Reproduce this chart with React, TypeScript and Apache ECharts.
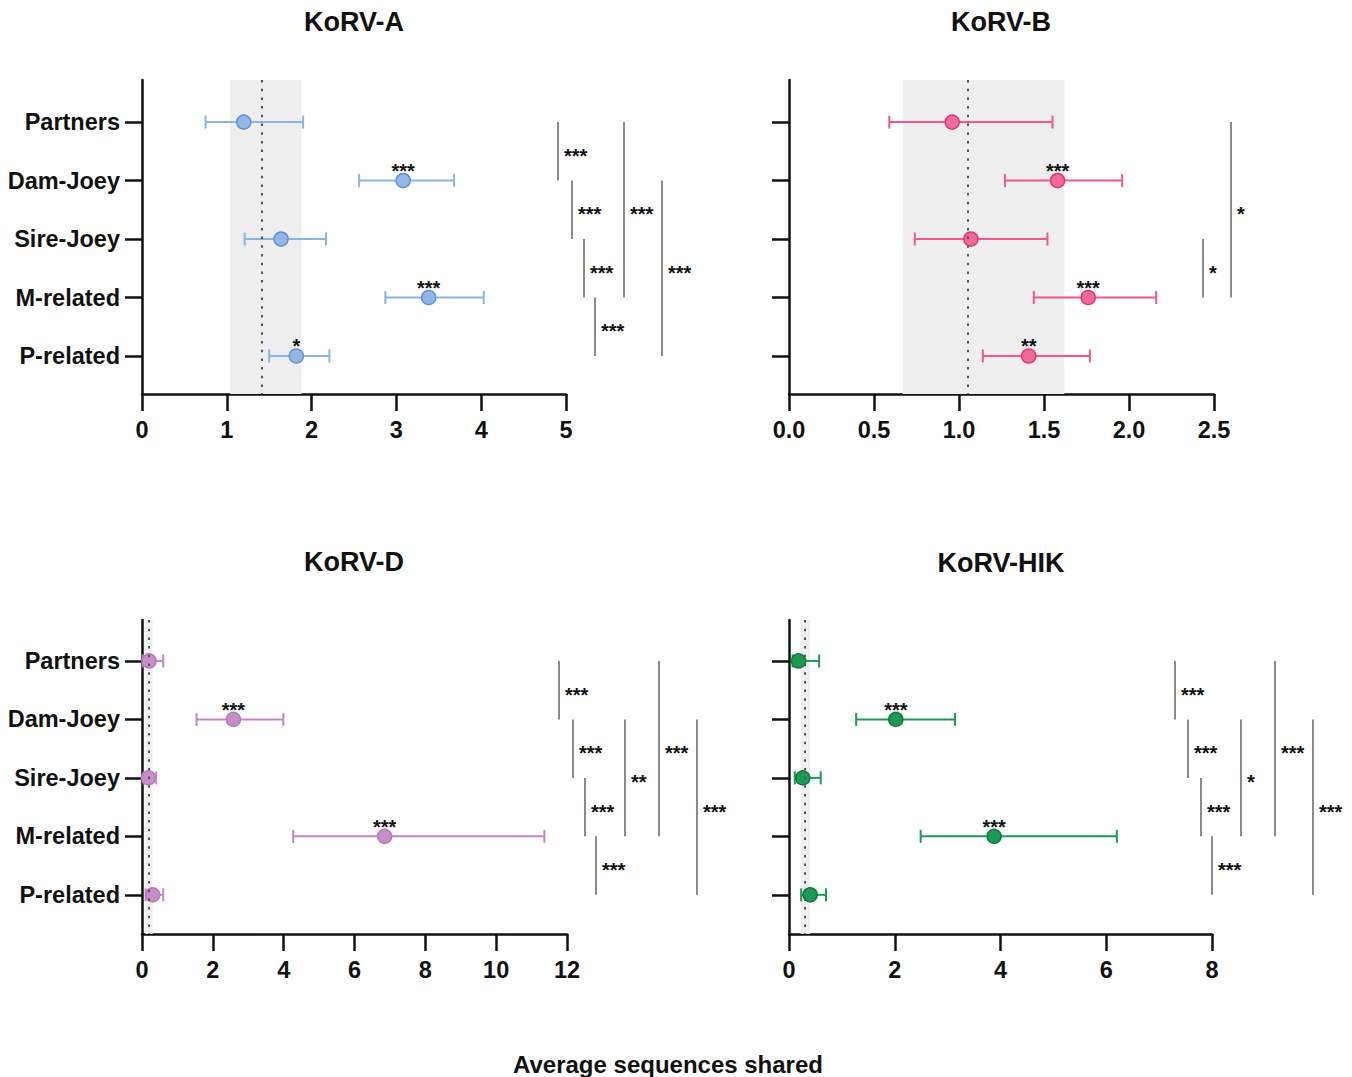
import { useEffect, useRef } from 'react';
import * as echarts from 'echarts';

const categories = ['Partners', 'Dam-Joey', 'Sire-Joey', 'M-related', 'P-related'];
const xAxisTitle = 'Average sequences shared';

// KoRV-A
const aMean = [1.2, 3.08, 1.64, 3.38, 1.82];
const aLow = [0.75, 2.56, 1.21, 2.87, 1.5];
const aHigh = [1.9, 3.68, 2.17, 4.03, 2.21];
const aStars = ['', '***', '', '***', '*'];
const aBand = [1.04, 1.88];
const aRef = 1.41;
const aBrackets: [number, number, string][] = [
  [0, 1, '***'], [1, 2, '***'], [2, 3, '***'], [3, 4, '***'], [0, 3, '***'], [1, 4, '***'],
];

// KoRV-B
const bMean = [0.96, 1.58, 1.07, 1.76, 1.41];
const bLow = [0.59, 1.27, 0.74, 1.44, 1.14];
const bHigh = [1.55, 1.96, 1.52, 2.16, 1.77];
const bStars = ['', '***', '', '***', '**'];
const bBand = [0.67, 1.62];
const bRef = 1.05;
const bBrackets: [number, number, string][] = [[2, 3, '*'], [0, 3, '*']];

// KoRV-D
const dMean = [0.2, 2.58, 0.18, 6.85, 0.3];
const dLow = [0.02, 1.54, 0.05, 4.27, 0.1];
const dHigh = [0.6, 3.99, 0.4, 11.36, 0.6];
const dStars = ['', '***', '', '***', ''];
const dBand = [0.1, 0.3];
const dRef = 0.2;
const dBrackets: [number, number, string][] = [
  [0, 1, '***'], [1, 2, '***'], [2, 3, '***'], [3, 4, '***'], [1, 3, '**'], [0, 3, '***'], [1, 4, '***'],
];

// KoRV-HIK
const hMean = [0.18, 2.02, 0.26, 3.88, 0.4];
const hLow = [0.07, 1.27, 0.11, 2.49, 0.23];
const hHigh = [0.57, 3.14, 0.6, 6.2, 0.7];
const hStars = ['', '***', '', '***', ''];
const hBand = [0.22, 0.4];
const hRef = 0.29;
const hBrackets: [number, number, string][] = [
  [0, 1, '***'], [1, 2, '***'], [2, 3, '***'], [3, 4, '***'], [1, 3, '*'], [0, 3, '***'], [1, 4, '***'],
];

// layout (pixels)
const FONT = '"Liberation Sans", Arial, Helvetica, sans-serif';
const STAR_FONT = `bold 20px ${FONT}`;

const panels = [
  {
    title: 'KoRV-A', mean: aMean, low: aLow, high: aHigh, stars: aStars, band: aBand, ref: aRef,
    brackets: aBrackets, bracketX: [416, 430, 442, 453, 482, 520],
    xMax: 5, xInterval: 1, decimals: 0, showLabels: true,
    grid: { left: 142, top: 80, width: 424, height: 314 }, yMin: -0.72, yMax: 4.65,
    line: '#8ab3e8', fill: '#93b6e4', border: '#5d91d6', titlePos: [354, 22],
  },
  {
    title: 'KoRV-B', mean: bMean, low: bLow, high: bHigh, stars: bStars, band: bBand, ref: bRef,
    brackets: bBrackets, bracketX: [414, 442],
    xMax: 2.5, xInterval: 0.5, decimals: 1, showLabels: false,
    grid: { left: 789, top: 80, width: 425, height: 314 }, yMin: -0.72, yMax: 4.65,
    line: '#f2588d', fill: '#ee6a97', border: '#e0337a', titlePos: [1001, 22],
  },
  {
    title: 'KoRV-D', mean: dMean, low: dLow, high: dHigh, stars: dStars, band: dBand, ref: dRef,
    brackets: dBrackets, bracketX: [417, 431, 443, 454, 483, 517, 555],
    xMax: 12, xInterval: 2, decimals: 0, showLabels: true,
    grid: { left: 142, top: 620, width: 425, height: 314 }, yMin: -0.7, yMax: 4.67,
    line: '#c585c7', fill: '#c58ec8', border: '#b67ab9', titlePos: [354, 562],
  },
  {
    title: 'KoRV-HIK', mean: hMean, low: hLow, high: hHigh, stars: hStars, band: hBand, ref: hRef,
    brackets: hBrackets, bracketX: [386, 399, 412, 423, 452, 486, 524],
    xMax: 8, xInterval: 2, decimals: 0, showLabels: false,
    grid: { left: 789, top: 620, width: 423, height: 314 }, yMin: -0.7, yMax: 4.67,
    line: '#1c9a55', fill: '#1c9a54', border: '#0f7a3d', titlePos: [1001, 563],
  },
];

function buildOption() {
  const grid: any[] = [];
  const xAxis: any[] = [];
  const yAxis: any[] = [];
  const series: any[] = [];
  const graphic: any[] = [];

  panels.forEach((p, i) => {
    grid.push({ ...p.grid, containLabel: false });
    xAxis.push({
      type: 'value', gridIndex: i, min: 0, max: p.xMax, interval: p.xInterval,
      axisLine: { show: true, onZero: false, lineStyle: { color: '#111', width: 2.5 } },
      axisTick: { show: true, length: 17, lineStyle: { color: '#111', width: 2.5 } },
      splitLine: { show: false },
      axisLabel: {
        margin: 24, color: '#111', fontWeight: 'bold', fontSize: 23.5, fontFamily: FONT,
        formatter: (v: number) => v.toFixed(p.decimals),
      },
    });
    yAxis.push({
      type: 'value', gridIndex: i, inverse: true, min: p.yMin, max: p.yMax,
      axisLine: { show: true, onZero: false, lineStyle: { color: '#111', width: 2.5 } },
      axisTick: { show: true, length: 17, customValues: [0, 1, 2, 3, 4], lineStyle: { color: '#111', width: 2.5 } },
      splitLine: { show: false },
      axisLabel: {
        show: p.showLabels,
        customValues: [0, 1, 2, 3, 4],
        margin: 22, color: '#111', fontWeight: 'bold', fontSize: 23.5, fontFamily: FONT,
        formatter: (v: number) => categories[Math.round(v)] ?? '',
      },
    });

    // reference band and dotted mean line
    series.push({
      type: 'scatter', xAxisIndex: i, yAxisIndex: i, data: [], silent: true, z: 0,
      markArea: {
        silent: true,
        itemStyle: { color: '#efefef' },
        data: [[{ xAxis: p.band[0] }, { xAxis: p.band[1] }]],
      },
      markLine: {
        silent: true, symbol: ['none', 'none'],
        label: { show: false },
        lineStyle: { color: '#555', width: 2, type: [2.5, 6.2] },
        data: [{ xAxis: p.ref }],
      },
    });

    // error bars + significance stars above points
    series.push({
      type: 'custom', xAxisIndex: i, yAxisIndex: i, z: 2, silent: true,
      encode: { x: [0, 1, 2], y: 3 },
      data: categories.map((_, k) => [p.low[k], p.high[k], p.mean[k], k]),
      renderItem: (params: any, api: any) => {
        const k = api.value(3);
        const lo = api.coord([api.value(0), k]);
        const hi = api.coord([api.value(1), k]);
        const m = api.coord([api.value(2), k]);
        const st = { stroke: p.line, lineWidth: 2 };
        const children: any[] = [
          { type: 'line', shape: { x1: lo[0], y1: lo[1], x2: hi[0], y2: hi[1] }, style: st },
          { type: 'line', shape: { x1: lo[0], y1: lo[1] - 6.5, x2: lo[0], y2: lo[1] + 6.5 }, style: st },
          { type: 'line', shape: { x1: hi[0], y1: hi[1] - 6.5, x2: hi[0], y2: hi[1] + 6.5 }, style: st },
        ];
        const star = p.stars[params.dataIndex];
        if (star) {
          children.push({
            type: 'text',
            style: {
              text: star, x: m[0], y: m[1] - 9.5, textAlign: 'center', textVerticalAlign: 'middle',
              font: STAR_FONT, fill: '#111',
            },
          });
        }
        return { type: 'group', children };
      },
    });

    // points
    series.push({
      type: 'scatter', xAxisIndex: i, yAxisIndex: i, z: 3, silent: true,
      symbol: 'circle', symbolSize: 14,
      itemStyle: { color: p.fill, borderColor: p.border, borderWidth: 1.5, opacity: 1 },
      data: categories.map((_, k) => [p.mean[k], k]),
    });

    // significance brackets
    series.push({
      type: 'custom', xAxisIndex: i, yAxisIndex: i, z: 2, silent: true, clip: false,
      encode: { y: [0, 1] },
      data: p.brackets.map((b) => [b[0], b[1]]),
      renderItem: (params: any, api: any) => {
        const j = params.dataIndex;
        const x = params.coordSys.x + p.bracketX[j];
        const y1 = api.coord([0, api.value(0)])[1];
        const y2 = api.coord([0, api.value(1)])[1];
        return {
          type: 'group',
          children: [
            { type: 'line', shape: { x1: x, y1, x2: x, y2 }, style: { stroke: '#8a8a8a', lineWidth: 2 } },
            {
              type: 'text',
              style: {
                text: p.brackets[j][2], x: x + 6, y: (y1 + y2) / 2 + 4.5, textAlign: 'left',
                textVerticalAlign: 'middle', font: STAR_FONT, fill: '#111',
              },
            },
          ],
        };
      },
    });

    graphic.push({
      type: 'text', x: p.titlePos[0], y: p.titlePos[1], silent: true,
      style: {
        text: p.title, textAlign: 'center', textVerticalAlign: 'middle',
        font: `bold 27px ${FONT}`, fill: '#111',
      },
    });
  });

  graphic.push({
    type: 'text', x: 668, y: 1064, silent: true,
    style: {
      text: xAxisTitle, textAlign: 'center', textVerticalAlign: 'middle',
      font: `bold 24px ${FONT}`, fill: '#111',
    },
  });

  return {
    animation: false,
    backgroundColor: '#ffffff',
    grid, xAxis, yAxis, series, graphic,
  };
}

export default function App() {
  const ref = useRef<HTMLDivElement>(null);
  useEffect(() => {
    document.body.style.margin = '0';
    const chart = echarts.init(ref.current!, null, { renderer: 'svg' });
    chart.setOption(buildOption() as any);
    return () => chart.dispose();
  }, []);
  return <div ref={ref} style={{ width: 1352, height: 1077, background: '#fff' }} />;
}
